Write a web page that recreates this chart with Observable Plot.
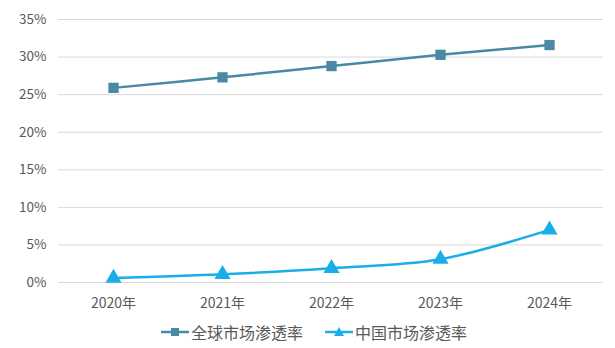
<!DOCTYPE html>
<html>
<head>
<meta charset="utf-8">
<script src="https://cdn.jsdelivr.net/npm/d3@7"></script>
<script src="https://cdn.jsdelivr.net/npm/@observablehq/plot@0.6"></script>
<style>
  html, body { margin: 0; padding: 0; background: #fff; }
  body { width: 615px; height: 348px; overflow: hidden; font-family: "Noto Sans CJK SC", "Noto Sans", sans-serif; }
  #legend { display: flex; align-items: center; height: 28px; margin-left: 161px; color: #595959; font-size: 16px; }
  .item { display: flex; align-items: center; margin-right: 22px; }
  .item svg { margin-right: 2px; }
</style>
</head>
<body>
<div id="chart"></div>
<div id="legend"></div>
<script>
const years = ["2020年", "2021年", "2022年", "2023年", "2024年"];
const globalRate = [25.9, 27.3, 28.8, 30.3, 31.6];
const chinaRate = [0.6, 1.1, 1.9, 3.1, 7.0];
const yTicks = [0, 5, 10, 15, 20, 25, 30, 35];
const seriesNames = ["全球市场渗透率", "中国市场渗透率"];
const colors = ["#4a89a5", "#1aaee8"];

const globalData = years.map((y, i) => ({year: y, value: globalRate[i]}));
const chinaData = years.map((y, i) => ({year: y, value: chinaRate[i]}));

const chart = Plot.plot({
  width: 615,
  height: 318,
  marginTop: 19,
  marginBottom: 36,
  marginLeft: 58,
  marginRight: 12,
  style: {fontFamily: '"Noto Sans CJK SC", sans-serif', color: "#595959", background: "#fff"},
  x: {type: "point", domain: years, padding: 0.5, label: null},
  y: {domain: [0, 35], label: null},
  marks: [
    Plot.ruleY(yTicks, {stroke: "#d9d9d9", strokeWidth: 1}),
    Plot.axisY({ticks: yTicks, tickSize: 0, tickPadding: 12, tickFormat: d => d + "%", fontSize: 13.5, fill: "#595959", label: null}),
    Plot.axisX({tickSize: 0, tickPadding: 16, fontSize: 14, fill: "#595959", label: null}),
    Plot.line(globalData, {x: "year", y: "value", stroke: colors[0], strokeWidth: 2.5, curve: "catmull-rom"}),
    Plot.dot(globalData, {x: "year", y: "value", symbol: "square", r: 5.8, fill: colors[0], stroke: "none"}),
    Plot.line(chinaData, {x: "year", y: "value", stroke: colors[1], strokeWidth: 2.5, curve: "catmull-rom"}),
    Plot.dot(chinaData, {x: "year", y: "value", symbol: "triangle", r: 6, fill: colors[1], stroke: "none"})
  ]
});
document.getElementById("chart").appendChild(chart);

const legend = document.getElementById("legend");
seriesNames.forEach((name, i) => {
  const item = document.createElement("div");
  item.className = "item";
  const marker = i === 0
    ? `<rect x="10" y="5" width="8" height="8" fill="${colors[i]}"/>`
    : `<path d="M14,4 L19,13 L9,13 Z" fill="${colors[i]}"/>`;
  item.innerHTML = `<svg width="28" height="18"><line x1="0" x2="28" y1="9" y2="9" stroke="${colors[i]}" stroke-width="2.5"/>${marker}</svg><span>${name}</span>`;
  legend.appendChild(item);
});
</script>
</body>
</html>
